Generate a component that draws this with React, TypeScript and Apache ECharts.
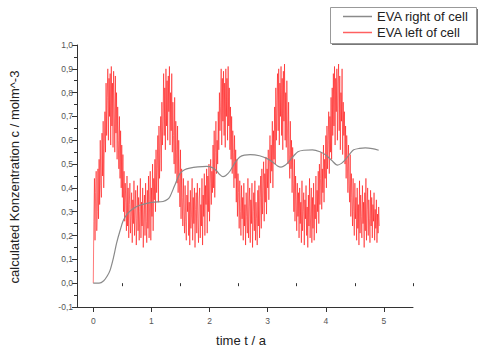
import React, { useEffect, useRef } from "react";
import * as echarts from "echarts";

// ---- data ----
const seriesNames = ["EVA right of cell", "EVA left of cell"];

// right of cell: [time, concentration]
const rightOfCell: [number, number][] = [
  [0, 0], [0.1, 0.0], [0.18, 0.01], [0.24, 0.03], [0.29, 0.055], [0.35, 0.11], [0.4, 0.167],
  [0.46, 0.22], [0.52, 0.265], [0.6, 0.295], [0.69, 0.314], [0.8, 0.327], [0.92, 0.335],
  [1.05, 0.34], [1.2, 0.343], [1.28, 0.352], [1.32, 0.364], [1.4, 0.41], [1.49, 0.46],
  [1.57, 0.476], [1.66, 0.483], [1.8, 0.488], [1.95, 0.49], [2.05, 0.485], [2.12, 0.472],
  [2.18, 0.455], [2.23, 0.447], [2.28, 0.452], [2.35, 0.47], [2.45, 0.51], [2.52, 0.53],
  [2.6, 0.538], [2.7, 0.54], [2.86, 0.535], [3.0, 0.522], [3.09, 0.508], [3.17, 0.492],
  [3.23, 0.487], [3.3, 0.495], [3.37, 0.512], [3.45, 0.535], [3.52, 0.552], [3.62, 0.558],
  [3.77, 0.56], [3.9, 0.552], [4.0, 0.538], [4.1, 0.516], [4.2, 0.496], [4.27, 0.503],
  [4.34, 0.52], [4.42, 0.545], [4.48, 0.56], [4.58, 0.566], [4.68, 0.568], [4.8, 0.565],
  [4.91, 0.558],
];

// left of cell: sampled every 0.01 a starting at t = 0
const leftStep = 0.01;
const leftOfCell: number[] = [
  // 0.00 - 0.97
  0.00, 0.26, 0.44, 0.18, 0.38, 0.47, 0.22, 0.30, 0.48, 0.27,
  0.52, 0.33, 0.60, 0.41, 0.36, 0.63, 0.45, 0.68, 0.40, 0.58,
  0.72, 0.55, 0.84, 0.62, 0.78, 0.90, 0.60, 0.86, 0.70, 0.88,
  0.58, 0.91, 0.66, 0.84, 0.57, 0.89, 0.74, 0.55, 0.87, 0.63,
  0.80, 0.52, 0.74, 0.60, 0.48, 0.70, 0.44, 0.64, 0.40, 0.58,
  0.36, 0.54, 0.30, 0.47, 0.26, 0.42, 0.34, 0.22, 0.45, 0.24,
  0.40, 0.19, 0.33, 0.42, 0.21, 0.28, 0.38, 0.17, 0.35, 0.25,
  0.43, 0.20, 0.31, 0.39, 0.16, 0.27, 0.41, 0.22, 0.36, 0.18,
  0.30, 0.44, 0.19, 0.34, 0.24, 0.40, 0.15, 0.29, 0.37, 0.20,
  0.42, 0.26, 0.17, 0.39, 0.23, 0.45, 0.19, 0.35,
  // 0.98 - 1.95
  0.47, 0.18, 0.40, 0.28, 0.50, 0.22, 0.44, 0.35, 0.52, 0.30,
  0.56, 0.38, 0.48, 0.62, 0.34, 0.66, 0.44, 0.58, 0.70, 0.47,
  0.76, 0.58, 0.68, 0.88, 0.62, 0.82, 0.56, 0.90, 0.66, 0.85,
  0.60, 0.87, 0.72, 0.91, 0.58, 0.80, 0.64, 0.88, 0.55, 0.76,
  0.62, 0.50, 0.78, 0.46, 0.68, 0.56, 0.42, 0.66, 0.38, 0.60,
  0.44, 0.32, 0.56, 0.27, 0.48, 0.36, 0.24, 0.44, 0.30, 0.21,
  0.41, 0.26, 0.18, 0.37, 0.30, 0.43, 0.20, 0.34, 0.16, 0.39,
  0.23, 0.29, 0.44, 0.18, 0.36, 0.25, 0.40, 0.15, 0.31, 0.38,
  0.21, 0.42, 0.27, 0.17, 0.35, 0.40, 0.19, 0.33, 0.24, 0.44,
  0.16, 0.37, 0.28, 0.46, 0.20, 0.41, 0.33, 0.48,
  // 1.96 - 2.93
  0.21, 0.45, 0.30, 0.50, 0.26, 0.42, 0.52, 0.33, 0.47, 0.38,
  0.58, 0.40, 0.64, 0.36, 0.55, 0.68, 0.46, 0.60, 0.50, 0.72,
  0.56, 0.80, 0.64, 0.74, 0.90, 0.58, 0.86, 0.68, 0.89, 0.62,
  0.84, 0.57, 0.90, 0.70, 0.86, 0.60, 0.91, 0.66, 0.82, 0.56,
  0.74, 0.52, 0.70, 0.46, 0.64, 0.55, 0.40, 0.62, 0.44, 0.56,
  0.34, 0.52, 0.28, 0.46, 0.38, 0.23, 0.43, 0.30, 0.20, 0.41,
  0.27, 0.36, 0.18, 0.42, 0.24, 0.33, 0.16, 0.38, 0.28, 0.21,
  0.44, 0.19, 0.32, 0.40, 0.17, 0.35, 0.25, 0.42, 0.15, 0.30,
  0.38, 0.22, 0.43, 0.18, 0.34, 0.27, 0.16, 0.39, 0.24, 0.41,
  0.19, 0.36, 0.45, 0.23, 0.48, 0.29, 0.40, 0.51,
  // 2.94 - 3.91
  0.26, 0.46, 0.34, 0.53, 0.29, 0.48, 0.40, 0.56, 0.35, 0.50,
  0.62, 0.42, 0.58, 0.47, 0.68, 0.40, 0.64, 0.52, 0.74, 0.50,
  0.82, 0.60, 0.76, 0.88, 0.64, 0.90, 0.58, 0.84, 0.70, 0.91,
  0.62, 0.86, 0.56, 0.89, 0.68, 0.92, 0.60, 0.80, 0.57, 0.85,
  0.66, 0.50, 0.76, 0.54, 0.44, 0.68, 0.48, 0.60, 0.38, 0.57,
  0.42, 0.30, 0.52, 0.26, 0.45, 0.35, 0.22, 0.42, 0.28, 0.38,
  0.19, 0.40, 0.25, 0.34, 0.17, 0.43, 0.22, 0.30, 0.38, 0.16,
  0.35, 0.27, 0.41, 0.20, 0.32, 0.15, 0.37, 0.24, 0.44, 0.19,
  0.29, 0.40, 0.17, 0.36, 0.23, 0.42, 0.18, 0.33, 0.27, 0.45,
  0.21, 0.39, 0.30, 0.47, 0.25, 0.50, 0.33, 0.44,
  // 3.92 - 4.92
  0.55, 0.31, 0.48, 0.38, 0.58, 0.34, 0.52, 0.44, 0.62, 0.40,
  0.66, 0.48, 0.60, 0.72, 0.46, 0.70, 0.55, 0.78, 0.52, 0.82,
  0.62, 0.88, 0.66, 0.91, 0.58, 0.86, 0.72, 0.90, 0.60, 0.84,
  0.92, 0.64, 0.87, 0.56, 0.80, 0.68, 0.90, 0.54, 0.76, 0.62,
  0.72, 0.50, 0.66, 0.44, 0.62, 0.52, 0.38, 0.58, 0.42, 0.34,
  0.54, 0.28, 0.46, 0.36, 0.24, 0.44, 0.30, 0.20, 0.42, 0.27,
  0.36, 0.18, 0.40, 0.23, 0.33, 0.16, 0.43, 0.21, 0.37, 0.28,
  0.19, 0.41, 0.25, 0.34, 0.15, 0.38, 0.22, 0.44, 0.18, 0.31,
  0.40, 0.20, 0.35, 0.27, 0.17, 0.39, 0.24, 0.36, 0.19, 0.33,
  0.26, 0.38, 0.18, 0.31, 0.23, 0.35, 0.17, 0.29, 0.21, 0.32, 0.24,
];

const xMajorTicks = [0, 1, 2, 3, 4, 5];
const xMinorTicks = [0.5, 1.5, 2.5, 3.5, 4.5, 5.5];
const xTitle = "time t / a";
const yTitle = "calculated Konzentration c / molm^-3";

const FONT = "'Liberation Sans', Arial, sans-serif";

export default function App() {
  const ref = useRef<HTMLDivElement>(null);

  useEffect(() => {
    if (!ref.current) return;
    const chart = echarts.init(ref.current, undefined, { renderer: "svg" });
    const leftData = leftOfCell.map((v, i) => [+(i * leftStep).toFixed(2), v]);

    chart.setOption({
      animation: false,
      backgroundColor: "#ffffff",
      textStyle: { fontFamily: FONT },
      grid: { left: 77, right: 66, top: 45, bottom: 42, containLabel: false },
      xAxis: [
        {
          type: "value",
          min: -0.28,
          max: 5.5,
          axisLine: { show: true, onZero: false, lineStyle: { color: "#333", width: 1 } },
          axisTick: { show: true, length: 5, customValues: xMajorTicks, lineStyle: { color: "#333" } },
          axisLabel: {
            show: true,
            customValues: xMajorTicks,
            fontSize: 8.5,
            color: "#555",
            margin: 9,
            fontFamily: FONT,
          },
          splitLine: { show: false },
        },
        {
          type: "value",
          min: -0.28,
          max: 5.5,
          position: "bottom",
          axisLine: { show: false },
          axisTick: { show: true, length: 3, customValues: xMinorTicks, lineStyle: { color: "#333" } },
          axisLabel: { show: false },
          splitLine: { show: false },
        },
      ],
      yAxis: {
        type: "value",
        min: -0.1,
        max: 1.0,
        interval: 0.1,
        axisLine: { show: true, onZero: false, lineStyle: { color: "#333", width: 1 } },
        axisTick: { show: true, length: 5, lineStyle: { color: "#333" } },
        minorTick: { show: true, splitNumber: 2, length: 3, lineStyle: { color: "#333" } },
        axisLabel: {
          fontSize: 8.5,
          color: "#555",
          margin: 4,
          fontFamily: FONT,
          formatter: (v: number) => v.toFixed(1).replace(".", ","),
        },
        splitLine: { show: false },
      },
      legend: {
        show: true,
        orient: "vertical",
        left: 343,
        top: 10,
        icon: "rect",
        itemWidth: 29,
        itemHeight: 1.5,
        itemGap: 3,
        padding: 0,
        textStyle: { fontSize: 13, color: "#222", fontFamily: FONT },
        data: seriesNames,
      },
      series: [
        {
          name: seriesNames[1],
          type: "line",
          data: leftData,
          symbol: "none",
          z: 2,
          lineStyle: { color: "#ff0000", width: 0.7, opacity: 0.75 },
          itemStyle: { color: "#ff6060" },
        },
        {
          name: seriesNames[0],
          type: "line",
          data: rightOfCell,
          smooth: 0.3,
          symbol: "none",
          z: 3,
          lineStyle: { color: "#8a8a8a", width: 1.2 },
          itemStyle: { color: "#8a8a8a" },
        },
      ],
      graphic: [
        { type: "rect", shape: { x: 332, y: 9, width: 146, height: 36 }, style: { fill: "#777" }, z: 0 },
        { type: "rect", shape: { x: 330.5, y: 7.5, width: 146, height: 36 }, style: { fill: "#fff", stroke: "#999", lineWidth: 1 }, z: 1 },
        {
          type: "text",
          x: 241,
          y: 340,
          style: { text: xTitle, fontSize: 13, fill: "#222", font: `13px ${FONT}`, align: "center", verticalAlign: "middle" },
        },
        {
          type: "text",
          x: 14,
          y: 177,
          rotation: Math.PI / 2,
          style: { text: yTitle, fontSize: 13, fill: "#222", font: `13px ${FONT}`, align: "center", verticalAlign: "middle" },
        },
      ],
    });

    return () => chart.dispose();
  }, []);

  return <div ref={ref} style={{ width: 479, height: 349, position: "absolute", left: 0, top: 0 }} />;
}
